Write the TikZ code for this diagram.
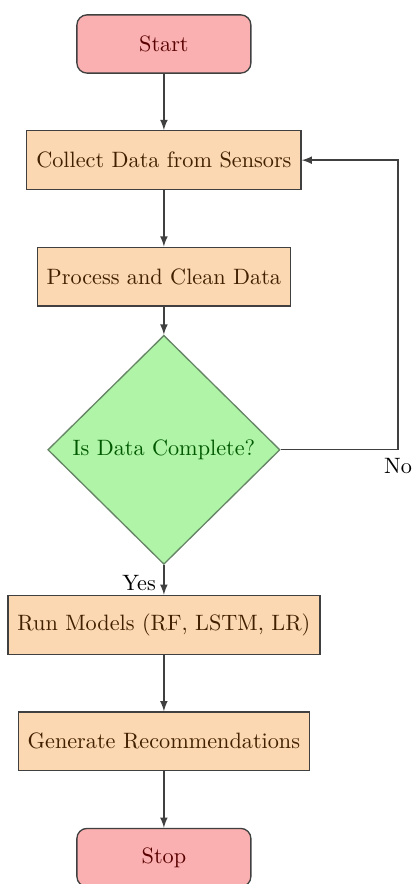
\documentclass[tikz,border=0pt]{standalone}
\usetikzlibrary{positioning,shapes.geometric,arrows}

\newcommand{\varW}{6.54}
\newcommand{\varH}{13.97}
\newcommand{\vargap}{0.89}
\newcommand{\varloop}{6.29}
\definecolor{myred}{RGB}{250,176,176}
\definecolor{myorange}{RGB}{252,216,178}
\definecolor{mygreen}{RGB}{176,244,168}

\begin{document}
\begin{tikzpicture}[
	node distance=\vargap cm,
	terminal/.style={draw=black!75, fill=myred, text=red!35!black, rounded corners=0.16cm, minimum width=2.75cm, minimum height=0.92cm, semithick},
	process/.style={draw=black!75, fill=myorange, text=orange!25!black, minimum height=0.93cm, inner xsep=0.15cm, semithick},
	decision/.style={diamond, draw=green!20!black!60, fill=mygreen, text=green!35!black, minimum width=3.67cm, minimum height=3.62cm, inner sep=0pt, semithick},
	arrow/.style={-latex, semithick, draw=black!75}]

	\useasboundingbox (0,0) rectangle (\varW,-\varH);

	% nodes
	\node [terminal] (start) at (2.59,-0.695) {Start};
	\node [process, below=of start] (collect) {Collect Data from Sensors};
	\node [process, below=of collect] (clean) {Process and Clean Data};
	\node [decision, below=0.44cm of clean] (check) {Is Data Complete?};
	\node [process, below=0.47cm of check] (models) {Run Models (RF, LSTM, LR)};
	\node [process, below=of models] (recomm) {Generate Recommendations};
	\node [terminal, below=of recomm] (stop) {Stop};

	% arrows
	\draw [arrow] (start) -- (collect);
	\draw [arrow] (collect) -- (clean);
	\draw [arrow] (clean) -- (check);
	\draw [arrow] (check) -- node [left, pos=0.6] {Yes} (models);
	\draw [arrow] (models) -- (recomm);
	\draw [arrow] (recomm) -- (stop);

	% loop back
	\coordinate (turn) at (\varloop,0);
	\draw [arrow] (check.east) -- (check.east -| turn) node [below] {No} |- (collect.east);
\end{tikzpicture}
\end{document}
